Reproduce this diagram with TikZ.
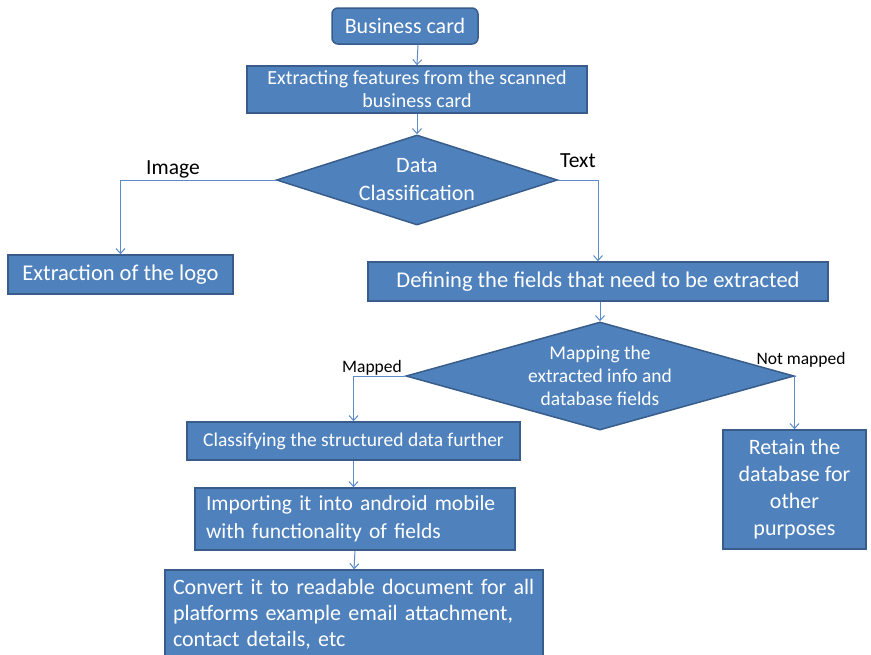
\documentclass[tikz,border=0pt]{standalone}
\usepackage{fontspec}
\setmainfont{Carlito}
\usetikzlibrary{shapes.geometric,arrows.meta,calc}
\definecolor{boxfill}{HTML}{4F81BD}
\definecolor{boxline}{HTML}{385D8A}
\definecolor{conncol}{HTML}{5B8BC9}
\tikzset{
  box/.style={rectangle,draw=boxline,fill=boxfill,line width=1.5pt,text=white,inner sep=0pt},
  dia/.style={diamond,draw=boxline,fill=boxfill,line width=1.5pt,inner sep=0pt},
  diatext/.style={text=white,inner sep=0pt,align=center},
  conn/.style={draw=conncol,line width=1pt,-{Straight Barb[length=5pt,width=9pt]}},
  lbl/.style={text=black,inner sep=0pt}
}
\begin{document}
\begin{tikzpicture}[x=1pt,y=-1pt]
\useasboundingbox (0,0) rectangle (871,654);
\fill[white] (0,0) rectangle (871,654);
% nodes
\node[box,rounded corners=6pt,minimum width=146pt,minimum height=36pt,font=\fontsize{22}{26}\selectfont] (bc) at (405,26) {Business card};
\node[box,minimum width=340pt,minimum height=47pt,align=center,font=\fontsize{20}{23}\selectfont] (ext) at (417,89.5) {Extracting features from the scanned\\business card};
\node[dia,minimum width=281pt,minimum height=90pt] (dc) at (417,180) {};
\node[diatext,font=\fontsize{22}{28}\selectfont] (dct) at (dc.center) {Data\\Classification};
\node[box,minimum width=225pt,minimum height=39pt,font=\fontsize{22.5}{26}\selectfont] (logo) at (120.5,274.5) {Extraction of the logo};
\node[box,minimum width=460pt,minimum height=39pt,font=\fontsize{22.5}{26}\selectfont] (def) at (598,281.5) {Defining the fields that need to be extracted};
\node[dia,minimum width=388pt,minimum height=108pt] (map) at (600,376) {};
\node[diatext,font=\fontsize{19.5}{23}\selectfont] (mapt) at (map.center) {Mapping the\\extracted info and\\database fields};
\node[box,minimum width=333pt,minimum height=38pt,font=\fontsize{19.5}{22}\selectfont] (cls) at (353.5,441) {Classifying the structured data further};
\node[box,minimum width=143pt,minimum height=119pt,align=center,font=\fontsize{22}{27}\selectfont] (ret) at (794.5,489.5) {Retain the\\database for\\other\\purposes};
\node[box,minimum width=320pt,minimum height=62pt,align=left,text width=298pt,font=\fontsize{21.5}{28}\selectfont] (imp) at (355,519) {Importing it into android mobile\\with functionality of fields};
\node[box,minimum width=378pt,minimum height=88pt,align=left,text width=362pt,font=\fontsize{22}{26}\selectfont] (conv) at (354,614) {Convert it to readable document for all\\platforms example email attachment,\\contact details, etc};
% labels
\node[lbl,font=\fontsize{21.5}{24}\selectfont] (limg) at (173,169) {Image};
\node[lbl,font=\fontsize{21.5}{24}\selectfont] (ltxt) at (578,161) {Text};
\node[lbl,font=\fontsize{17.5}{20}\selectfont] (lmap) at (372,368) {Mapped};
\node[lbl,font=\fontsize{17.5}{20}\selectfont] (lnot) at (801,360) {Not mapped};
% connectors
\draw[conn] ($(bc.south)+(13,0)$) -- (ext.north);
\draw[conn] (ext.south) -- (dc.north);
\draw[conn] (dc.west) -| (logo.north);
\draw[conn] (dc.east) -| (def.north);
\draw[conn] (def.south -| map.north) -- (map.north);
\draw[conn] (map.west) -| (cls.north);
\draw[conn] (map.east) -| (ret.north);
\draw[conn] (cls.south) -- (cls.south |- imp.north);
\draw[conn] (imp.south) -- (conv.north);
\end{tikzpicture}
\end{document}
